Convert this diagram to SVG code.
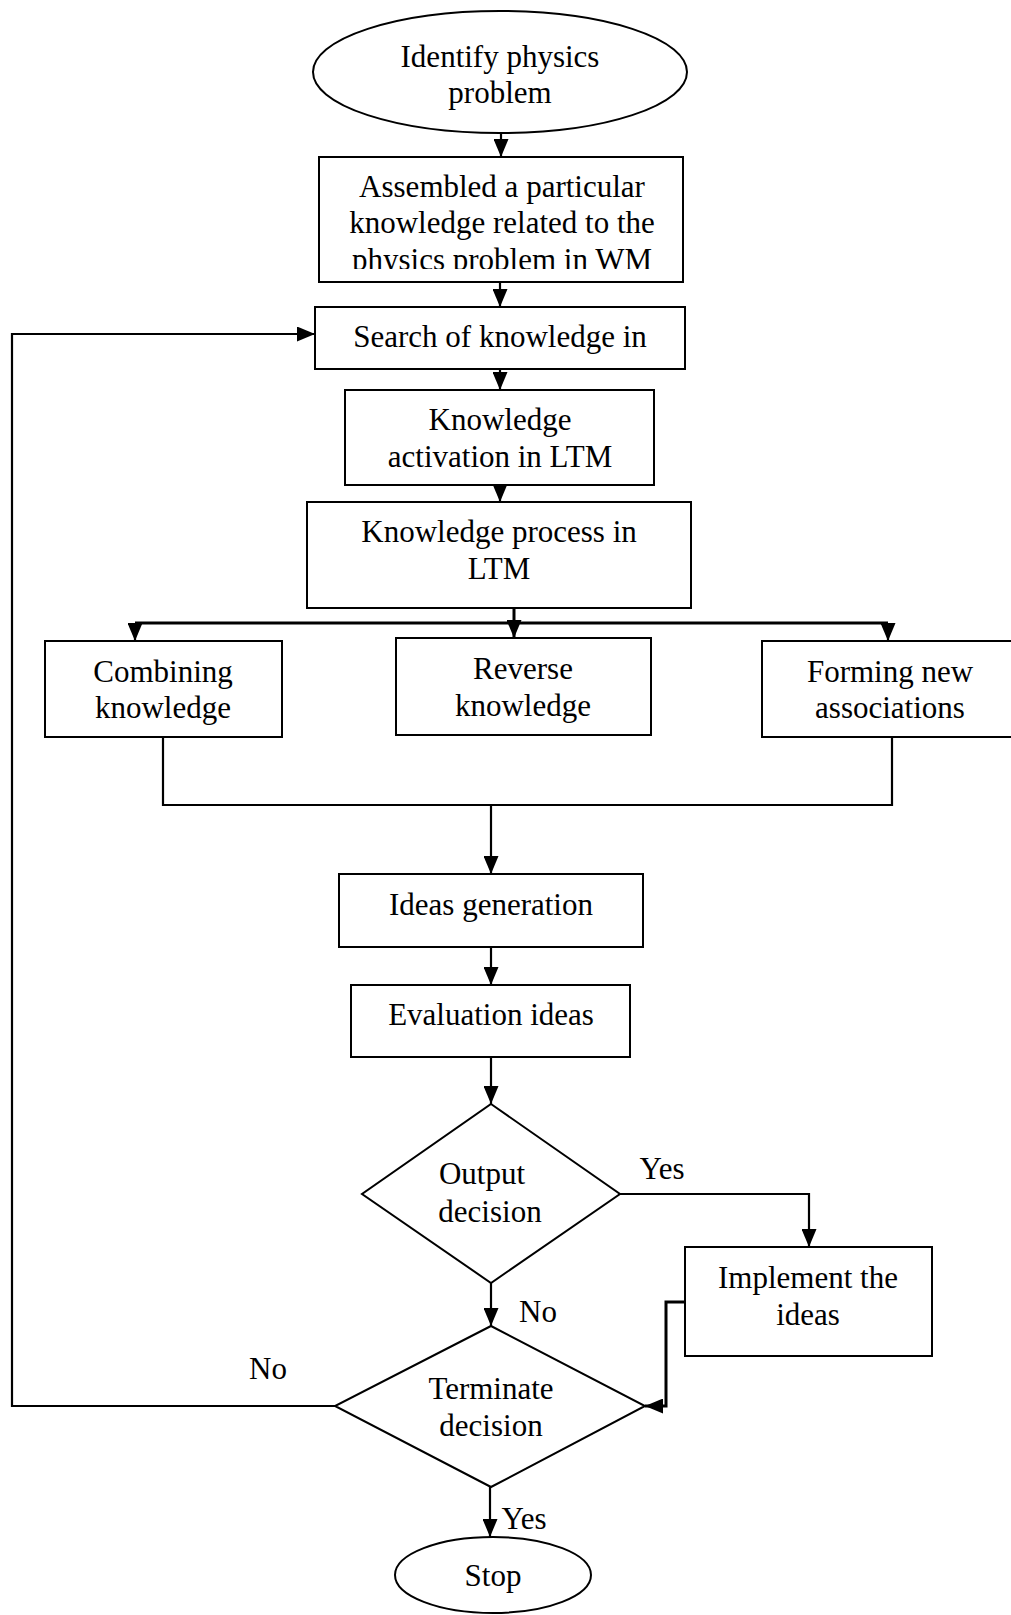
<svg xmlns="http://www.w3.org/2000/svg" width="1011" height="1615" viewBox="0 0 1011 1615">
<style>
.n{fill:#fff;stroke:#000;stroke-width:2}
.t{font-family:"Liberation Serif","Times New Roman",serif;font-size:31px;fill:#000;text-anchor:middle}
.c{fill:none;stroke:#000;stroke-width:2.2}
.a{marker-end:url(#ah)}
.thick{stroke-width:3}
</style>
<defs>
<marker id="ah" markerUnits="userSpaceOnUse" markerWidth="18" markerHeight="15" viewBox="0 0 18 15" refX="18" refY="7.5" orient="auto">
<path d="M0,0 L18,7.5 L0,15 Z" fill="#000"/>
</marker>
<clipPath id="clip2"><rect x="319" y="157" width="364" height="112"/></clipPath>
</defs>
<rect width="1011" height="1615" fill="#fff"/>
<g id="connectors">
<path class="c a" d="M501,133 V157"/>
<path class="c a" d="M500,282 V307"/>
<path class="c a" d="M500,369 V390"/>
<path class="c a" d="M500,485 V502"/>
<path class="c thick" d="M135,623 H888"/>
<path class="c thick a" d="M514,608 V638"/>
<path class="c a" d="M135,623 V641"/>
<path class="c a" d="M888,623 V641"/>
<path class="c" d="M163,737 V805 H892 V737"/>
<path class="c a" d="M491,805 V874"/>
<path class="c a" d="M491,947 V985"/>
<path class="c a" d="M491,1057 V1104"/>
<path class="c a" d="M620,1194 H809 V1247"/>
<path class="c a" d="M491,1283 V1326"/>
<path class="c thick a" d="M685,1302 H666 V1406 H645"/>
<path class="c a" d="M335,1406 H12 V334 H315"/>
<path class="c a" d="M490,1487 V1537"/>
</g>
<g id="start">
<ellipse class="n" cx="500" cy="72" rx="187" ry="61"/>
<text class="t" x="500" y="67">Identify physics</text>
<text class="t" x="500" y="103">problem</text>
</g>
<g id="assemble">
<rect class="n" x="319" y="157" width="364" height="125"/>
<text class="t" x="502" y="197">Assembled a particular</text>
<text class="t" x="502" y="233">knowledge related to the</text>
<text class="t" x="502" y="270" clip-path="url(#clip2)">physics problem in WM</text>
</g>
<g id="search">
<rect class="n" x="315" y="307" width="370" height="62"/>
<text class="t" x="500" y="347">Search of knowledge in</text>
</g>
<g id="activation">
<rect class="n" x="345" y="390" width="309" height="95"/>
<text class="t" x="500" y="430">Knowledge</text>
<text class="t" x="500" y="467">activation in LTM</text>
</g>
<g id="process">
<rect class="n" x="307" y="502" width="384" height="106"/>
<text class="t" x="499" y="542">Knowledge process in</text>
<text class="t" x="499" y="579">LTM</text>
</g>
<g id="combining">
<rect class="n" x="45" y="641" width="237" height="96"/>
<text class="t" x="163" y="682">Combining</text>
<text class="t" x="163" y="718">knowledge</text>
</g>
<g id="reverse">
<rect class="n" x="396" y="638" width="255" height="97"/>
<text class="t" x="523" y="679">Reverse</text>
<text class="t" x="523" y="716">knowledge</text>
</g>
<g id="forming">
<rect class="n" x="762" y="641" width="260" height="96"/>
<text class="t" x="890" y="682">Forming new</text>
<text class="t" x="890" y="718">associations</text>
</g>
<g id="ideas">
<rect class="n" x="339" y="874" width="304" height="73"/>
<text class="t" x="491" y="915">Ideas generation</text>
</g>
<g id="evaluation">
<rect class="n" x="351" y="985" width="279" height="72"/>
<text class="t" x="491" y="1025">Evaluation ideas</text>
</g>
<g id="output">
<path class="n" d="M491,1104 L620,1194 L491,1283 L362,1194 Z"/>
<text class="t" x="482" y="1184">Output</text>
<text class="t" x="490" y="1222">decision</text>
</g>
<g id="implement">
<rect class="n" x="685" y="1247" width="247" height="109"/>
<text class="t" x="808" y="1288">Implement the</text>
<text class="t" x="808" y="1325">ideas</text>
</g>
<g id="terminate">
<path class="n" d="M491,1326 L645,1406 L491,1487 L335,1406 Z"/>
<text class="t" x="491" y="1399">Terminate</text>
<text class="t" x="491" y="1436">decision</text>
</g>
<g id="stop">
<ellipse class="n" cx="493" cy="1575" rx="98" ry="38"/>
<text class="t" x="493" y="1586">Stop</text>
</g>
<g id="labels">
<text class="t" x="662" y="1179">Yes</text>
<text class="t" x="538" y="1322">No</text>
<text class="t" x="268" y="1379">No</text>
<text class="t" x="524" y="1529">Yes</text>
</g>
</svg>
